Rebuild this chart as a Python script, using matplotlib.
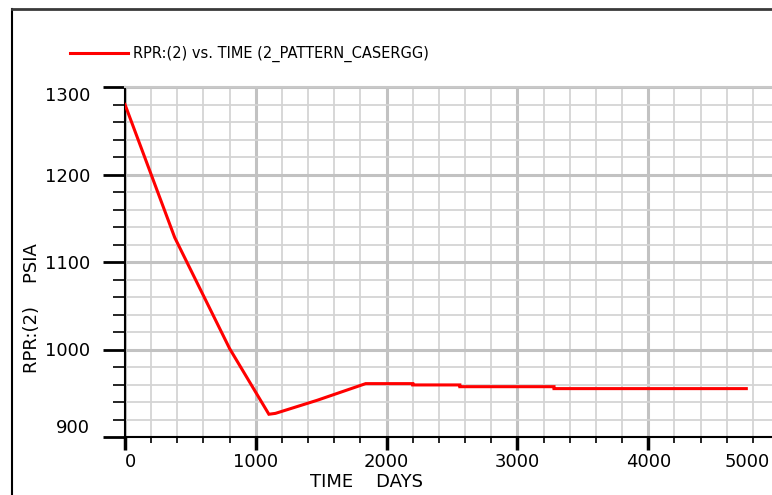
import numpy as np
from matplotlib import pyplot as plt
from matplotlib.lines import Line2D
from matplotlib.transforms import ScaledTranslation

# Data.
time_days = [0, 380, 800, 1100, 1150, 1470, 1840, 2200, 2200, 2560, 2560, 3280, 3280, 4750]
rpr_psia = [1280, 1128, 1001, 926, 927, 942, 961, 961, 959.5, 959.5, 957.5, 957.5, 955.3, 955.3]

x_ticks = [0, 1000, 2000, 3000, 4000, 5000]
y_ticks = [900, 1000, 1100, 1200, 1300]
series_label = 'RPR:(2) vs. TIME (2_PATTERN_CASERGG)'

W, H = 772, 495

if __name__ == '__main__':
  fig = plt.figure(figsize=(W / 100, H / 100), dpi=100)
  fig.patch.set_facecolor('white')

  # Axes runs past the right edge like in the cropped screenshot.
  ax = fig.add_axes([125 / W, 1 - 437 / H, (779 - 125) / W, (437 - 87) / H])
  ax.plot(time_days, rpr_psia, color='#ff0000', lw=2.2, zorder=5,
          label=series_label, solid_joinstyle='miter')

  ax.set_xlim(0, 5000)
  ax.set_ylim(900, 1300)
  ax.set_xticks(x_ticks)
  ax.set_yticks(y_ticks)
  ax.set_xticks(np.arange(0, 5001, 200), minor=True)
  ax.set_yticks(np.arange(900, 1301, 20), minor=True)

  # Grid.
  ax.set_axisbelow(True)
  ax.grid(which='minor', color='#d4d4d4', lw=1.3)
  ax.grid(which='major', color='#c2c2c2', lw=2.2)

  # Spines.
  ax.spines['left'].set_color('black')
  ax.spines['bottom'].set_color('black')
  ax.spines['left'].set_linewidth(1.5)
  ax.spines['bottom'].set_linewidth(1.5)
  ax.spines['top'].set_color('#c8c8c8')
  ax.spines['top'].set_linewidth(1.5)
  ax.spines['right'].set_visible(False)

  # Ticks.
  ax.tick_params(axis='y', which='major', direction='out', length=16, width=2, pad=9, labelsize=13)
  ax.tick_params(axis='y', which='minor', direction='out', length=8.5, width=1.2)
  ax.tick_params(axis='x', which='major', direction='out', length=9.5, width=2.5, pad=2, labelsize=13)
  ax.tick_params(axis='x', which='minor', direction='out', length=4.5, width=1.2)

  # Edge tick labels sit inward like in the reference.
  ylabels = ax.get_yticklabels()
  ylabels[0].set_verticalalignment('bottom')
  ylabels[-1].set_verticalalignment('top')
  xlabels = ax.get_xticklabels()
  xlabels[0].set_horizontalalignment('left')
  xlabels[-1].set_horizontalalignment('right')
  xlabels[-1].set_transform(xlabels[-1].get_transform() + ScaledTranslation(-0.09, 0, fig.dpi_scale_trans))

  # Axis titles.
  fig.text(367 / W, 1 - 482 / H, 'TIME    DAYS', ha='center', va='center', fontsize=13)
  fig.text(32 / W, 1 - 308 / H, 'RPR:(2)    PSIA', ha='center', va='center', rotation=90, fontsize=13)

  # Legend.
  ax.legend(loc='center left', bbox_to_anchor=(70 / W, 1 - 54 / H), bbox_transform=fig.transFigure,
            frameon=False, fontsize=10.5, handlelength=4.0, handletextpad=0.3,
            borderpad=0, borderaxespad=0)

  # Window frame lines.
  fig.add_artist(Line2D([12 / W, 12 / W], [0, 1 - 9 / H], color='black', lw=1.5))
  fig.add_artist(Line2D([12 / W, 1], [1 - 9 / H, 1 - 9 / H], color='#3a3a3a', lw=2))

  fig.savefig('out.png', dpi=100)
